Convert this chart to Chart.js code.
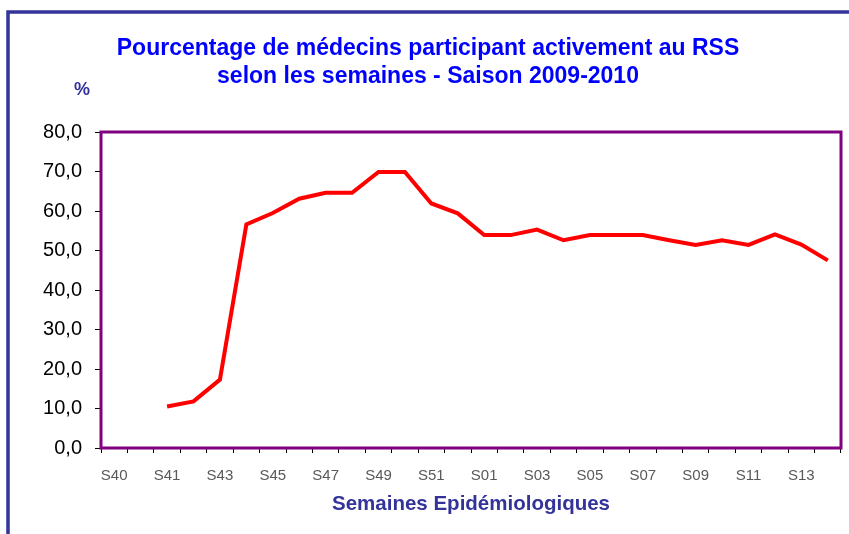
<!DOCTYPE html>
<html>
<head>
<meta charset="utf-8">
<script src="https://cdn.jsdelivr.net/npm/chart.js@4/dist/chart.umd.min.js"></script>
<style>
  html, body { margin: 0; padding: 0; background: #ffffff; }
  #wrap { width: 849px; height: 534px; position: relative; }
</style>
</head>
<body>
<div id="wrap"><canvas id="c" width="849" height="534"></canvas></div>
<script>
// ---- Data ----
const weeks = ["S40", "S40-41", "S41", "S42", "S43", "S44", "S45", "S46", "S47", "S48", "S49", "S50",
               "S51", "S52", "S01", "S02", "S03", "S04", "S05", "S06", "S07", "S08", "S09", "S10",
               "S11", "S12", "S13", "S14"];
const participation = [null, null, 10.5, 11.8, 17.3, 56.6, 59.5, 63.1, 64.6, 64.6, 69.9, 69.9,
                       61.9, 59.4, 53.9, 53.9, 55.3, 52.6, 53.9, 53.9, 53.9, 52.6, 51.4, 52.6,
                       51.4, 54.1, 51.5, 47.5];
const yTicks = [0, 10, 20, 30, 40, 50, 60, 70, 80];
const titleLines = ["Pourcentage de médecins participant activement au RSS",
                    "selon les semaines - Saison 2009-2010"];
const xTitle = "Semaines Epidémiologiques";
const yUnit = "%";

const FONT = "'Liberation Sans', Arial, sans-serif";

const decor = {
  id: 'decor',
  beforeDraw(chart) {
    const ctx = chart.ctx;
    ctx.save();
    // outer frame (left + top)
    ctx.strokeStyle = '#333399';
    ctx.lineWidth = 3.5;
    ctx.beginPath();
    ctx.moveTo(8, 534);
    ctx.lineTo(8, 12);
    ctx.lineTo(849, 12);
    ctx.stroke();
    // title
    ctx.fillStyle = '#0000FF';
    ctx.font = "bold 23px " + FONT;
    ctx.textAlign = 'center';
    ctx.textBaseline = 'alphabetic';
    ctx.fillText(titleLines[0], 428, 55);
    ctx.fillText(titleLines[1], 428, 83);
    // unit
    ctx.fillStyle = '#333399';
    ctx.font = "bold 18px " + FONT;
    ctx.fillText(yUnit, 82, 95);
    ctx.restore();
  },
  afterDatasetsDraw(chart) {
    const ctx = chart.ctx;
    const a = chart.chartArea;
    ctx.save();
    ctx.strokeStyle = '#800080';
    ctx.lineWidth = 3;
    ctx.strokeRect(a.left, a.top, a.right - a.left, a.bottom - a.top);
    ctx.restore();
  }
};

new Chart(document.getElementById('c'), {
  type: 'line',
  data: {
    labels: weeks,
    datasets: [{
      data: participation,
      borderColor: '#FF0000',
      borderWidth: 4,
      pointRadius: 0,
      tension: 0,
      fill: false,
      spanGaps: false
    }]
  },
  options: {
    responsive: false,
    animation: false,
    devicePixelRatio: 1,
    layout: { padding: { left: 0, right: 8, top: 132, bottom: 0 } },
    plugins: {
      legend: { display: false },
      title: { display: false },
      tooltip: { enabled: false }
    },
    scales: {
      x: {
        type: 'category',
        offset: true,
        grid: {
          offset: true,
          drawOnChartArea: false,
          drawTicks: true,
          tickLength: 5,
          tickColor: '#000000',
          lineWidth: 1
        },
        border: { display: false },
        ticks: {
          autoSkip: false,
          maxRotation: 0,
          minRotation: 0,
          padding: 14,
          color: '#595959',
          font: { family: FONT, size: 15 },
          callback: function(v, i) { return i % 2 === 0 ? weeks[i] : ''; }
        },
        title: {
          display: true,
          text: xTitle,
          color: '#333399',
          font: { family: FONT, size: 20.5, weight: 'bold' },
          padding: { top: 0, bottom: 17 }
        },
        afterFit(scale) { scale.height = 86; }
      },
      y: {
        min: 0,
        max: 80,
        afterBuildTicks(scale) { scale.ticks = yTicks.map(v => ({ value: v })); },
        grid: {
          drawOnChartArea: false,
          drawTicks: true,
          tickLength: 6,
          tickColor: '#000000'
        },
        border: { display: false },
        ticks: {
          padding: 13,
          color: '#000000',
          font: { family: FONT, size: 20 },
          callback: function(v) { return v.toFixed(1).replace('.', ','); }
        },
        afterFit(scale) { scale.width = 101; }
      }
    }
  },
  plugins: [decor]
});
</script>
</body>
</html>
